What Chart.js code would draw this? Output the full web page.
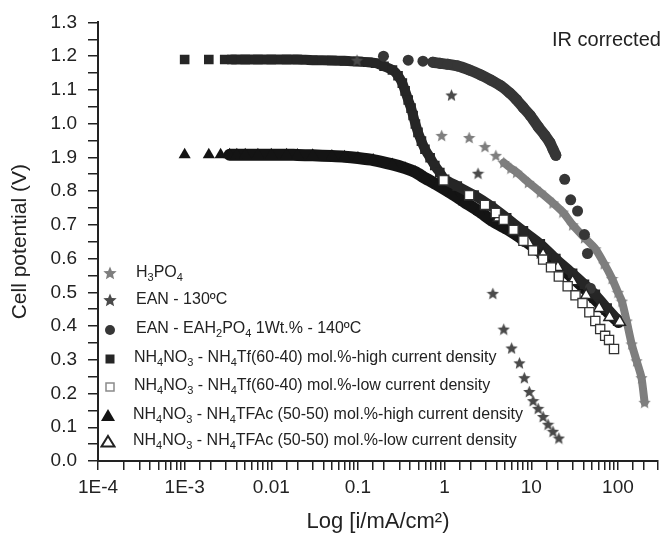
<!DOCTYPE html>
<html>
<head>
<meta charset="utf-8">
<script src="https://cdn.jsdelivr.net/npm/chart.js@4/dist/chart.umd.min.js"></script>
<style>
  html, body { margin: 0; padding: 0; background: #fff; overflow: hidden; }
  #wrap { position: relative; width: 667px; height: 535px; overflow: hidden; font-family: "Liberation Sans", Arial, sans-serif; color: #222; }
  #c { position: absolute; left: 0; top: 0; }
  .note { position: absolute; left: 552px; top: 28px; font-size: 20px; white-space: nowrap; }
  .leg { position: absolute; font-size: 16px; white-space: nowrap; line-height: 18px; }
  .leg sub { font-size: 11px; vertical-align: -4px; line-height: 0; }
  .sym { position: absolute; }
</style>
</head>
<body>
<div id="wrap">
  <canvas id="c" width="672" height="535"></canvas>
  <div class="note">IR corrected</div>
  <div id="legend"></div>
</div>
<script>
// ---------------- data (x: current density mA/cm2, y: cell potential V) ----------------
const xTickLabels = ["1E-4", "1E-3", "0.01", "0.1", "1", "10", "100"];
const yTickLabels = ["0.0", "0.1", "0.2", "0.3", "0.4", "0.5", "0.6", "0.7", "0.8", "1.9", "1.0", "1.1", "1.2", "1.3"];

const seriesNames = [
  "H3PO4",
  "EAN - 130ºC",
  "EAN - EAH2PO4 1Wt.% - 140ºC",
  "NH4NO3 - NH4Tf(60-40) mol.%-high current density",
  "NH4NO3 - NH4Tf(60-40) mol.%-low current density",
  "NH4NO3 - NH4TFAc (50-50) mol.%-high current density",
  "NH4NO3 - NH4TFAc (50-50) mol.%-low current density"
];

const h3po4X = [0.925, 1.92, 2.92, 3.9, 4.81, 5.8, 6.76, 9.25, 12.7, 17.8, 23.1, 30, 41.1, 54.8, 69.4, 85.5, 100, 111, 126, 144, 164, 187, 203];
const h3po4Y = [0.965, 0.959, 0.932, 0.906, 0.885, 0.868, 0.856, 0.826, 0.797, 0.765, 0.738, 0.70, 0.662, 0.629, 0.585, 0.541, 0.50, 0.474, 0.415, 0.347, 0.297, 0.247, 0.174];

const ean130X = [0.0975, 1.2, 2.43, 3.6, 4.81, 5.93, 7.31, 8.32, 9.48, 10.5, 12, 13.7, 15.6, 17.8, 20.8];
const ean130Y = [1.188, 1.085, 0.853, 0.497, 0.391, 0.335, 0.291, 0.247, 0.206, 0.179, 0.156, 0.132, 0.109, 0.088, 0.068];

const eanPhosX = [0.197, 0.38, 0.562, 0.73, 0.877, 1.08, 1.41, 1.92, 2.63, 3.42, 4.45, 5.62, 6.76, 8.11, 9.75, 12, 14.4, 16.4, 17.8, 19.2, 24.3, 28.5, 34.2, 41.1, 44.5, 48.1];
const eanPhosY = [1.20, 1.188, 1.185, 1.182, 1.179, 1.176, 1.171, 1.159, 1.144, 1.129, 1.112, 1.091, 1.071, 1.047, 1.024, 0.991, 0.965, 0.944, 0.924, 0.906, 0.835, 0.774, 0.741, 0.671, 0.615, 0.512];

const tfHighX = [0.001, 0.0019, 0.0029, 0.0035, 0.005, 0.007, 0.01, 0.015, 0.02, 0.03, 0.05, 0.07, 0.1, 0.13, 0.16, 0.2, 0.25, 0.29, 0.325, 0.35, 0.38, 0.41, 0.433, 0.46, 0.493, 0.54, 0.593, 0.68, 0.77, 0.88, 1.0, 1.4, 2.19, 3.42, 5.2, 8.11, 12.7, 19.2, 30, 41.1, 54.8, 75, 102];
const tfHighY = [1.19, 1.19, 1.19, 1.19, 1.19, 1.19, 1.19, 1.19, 1.19, 1.188, 1.187, 1.186, 1.184, 1.182, 1.179, 1.17, 1.159, 1.142, 1.12, 1.097, 1.07, 1.046, 1.024, 0.999, 0.974, 0.948, 0.924, 0.899, 0.876, 0.855, 0.835, 0.815, 0.788, 0.756, 0.721, 0.682, 0.644, 0.60, 0.556, 0.524, 0.494, 0.453, 0.415];

const tfLowX = [0.975, 1.92, 2.92, 3.9, 4.81, 6.24, 8.11, 10.5, 13.7, 16.9, 20.8, 26.3, 32.4, 39, 46.8, 54.8, 62.4, 71.2, 79, 90.1];
const tfLowY = [0.832, 0.788, 0.759, 0.735, 0.715, 0.685, 0.653, 0.624, 0.597, 0.574, 0.547, 0.518, 0.491, 0.468, 0.441, 0.415, 0.391, 0.371, 0.359, 0.332];

const tfacHighX = [0.001, 0.0019, 0.0026, 0.0033, 0.004, 0.005, 0.007, 0.01, 0.015, 0.02, 0.03, 0.05, 0.07, 0.1, 0.15, 0.25, 0.35, 0.46, 0.6, 0.83, 1.2, 1.69, 2.5, 3.7, 5.48, 8.11, 12.7, 19.2, 30, 41.1, 54.8, 75, 102];
const tfacHighY = [0.908, 0.908, 0.908, 0.908, 0.908, 0.908, 0.908, 0.908, 0.908, 0.907, 0.906, 0.904, 0.902, 0.898, 0.892, 0.879, 0.868, 0.856, 0.838, 0.818, 0.793, 0.768, 0.74, 0.709, 0.685, 0.656, 0.62, 0.585, 0.544, 0.512, 0.479, 0.444, 0.412];

const tfacLowX = [4.22, 6.24, 9.25, 13.7, 20.3, 30, 43, 60.8, 80, 105];
const tfacLowY = [0.721, 0.682, 0.647, 0.612, 0.574, 0.532, 0.491, 0.453, 0.426, 0.412];

// ---------------- marker helpers ----------------
function starCanvas(size, color) {
  const c = document.createElement('canvas');
  c.width = size; c.height = size;
  const g = c.getContext('2d');
  g.fillStyle = color;
  g.beginPath();
  const cx = size / 2, cy = size / 2 + size * 0.05, R = size / 2, r = R * 0.45;
  for (let i = 0; i < 10; i++) {
    const a = -Math.PI / 2 + i * Math.PI / 5;
    const rr = (i % 2) ? r : R;
    g.lineTo(cx + rr * Math.cos(a), cy + rr * Math.sin(a));
  }
  g.closePath();
  g.fill();
  return c;
}
const pts = (xs, ys) => xs.map((x, i) => ({ x: x, y: ys[i] }));
const bandSeg = (color, from, to) => ({
  borderColor: ctx => (ctx.p0DataIndex >= from && ctx.p1DataIndex <= to) ? color : 'rgba(0,0,0,0)'
});

const cH3 = '#7e7e7e', cEAN = '#4a4a4a', cPhos = '#363636', cTf = '#262626', cTfac = '#141414';

const datasets = [
  { label: seriesNames[0], data: pts(h3po4X, h3po4Y), pointStyle: starCanvas(13, cH3), pointRadius: 6,
    showLine: true, borderWidth: 8, borderColor: cH3, segment: bandSeg(cH3, 4, 99), tension: 0.2, order: 5 },
  { label: seriesNames[1], data: pts(ean130X, ean130Y), pointStyle: starCanvas(13, cEAN), pointRadius: 6,
    showLine: false, order: 4 },
  { label: seriesNames[2], data: pts(eanPhosX, eanPhosY), pointStyle: 'circle', pointRadius: 5.5,
    backgroundColor: cPhos, borderColor: cPhos, pointBorderWidth: 0,
    showLine: true, borderWidth: 11, segment: bandSeg(cPhos, 3, 19), tension: 0.2, order: 3 },
  { label: seriesNames[3], data: pts(tfHighX, tfHighY), pointStyle: 'rect', pointRadius: 6.8,
    backgroundColor: cTf, borderColor: cTf, pointBorderWidth: 0,
    showLine: true, borderWidth: 10, segment: bandSeg(cTf, 3, 99), tension: 0.2, order: 6 },
  { label: seriesNames[4], data: pts(tfLowX, tfLowY), pointStyle: 'rect', pointRadius: 6.5,
    backgroundColor: '#ffffff', borderColor: '#333', pointBorderWidth: 1.3,
    showLine: false, order: 1 },
  { label: seriesNames[5], data: pts(tfacHighX, tfacHighY), pointStyle: 'triangle', pointRadius: 7,
    backgroundColor: cTfac, borderColor: cTfac, pointBorderWidth: 0,
    showLine: true, borderWidth: 12, segment: bandSeg(cTfac, 3, 99), tension: 0.2, order: 7 },
  { label: seriesNames[6], data: pts(tfacLowX, tfacLowY), pointStyle: 'triangle', pointRadius: 6.5,
    backgroundColor: '#ffffff', borderColor: '#222', pointBorderWidth: 1.5,
    showLine: false, order: 2 }
];

Chart.defaults.font.family = '"Liberation Sans", Arial, sans-serif';
Chart.defaults.color = '#222';

new Chart(document.getElementById('c'), {
  type: 'scatter',
  data: { datasets: datasets },
  options: {
    responsive: false,
    animation: false,
    events: [],
    layout: { padding: { top: 19, right: 0, bottom: 0, left: 0 } },
    plugins: { legend: { display: false }, tooltip: { enabled: false } },
    elements: { line: { borderCapStyle: 'round', borderJoinStyle: 'round', fill: false } },
    scales: {
      x: {
        type: 'logarithmic',
        min: 1e-4, max: 290,
        afterFit: s => { s.height = 74; s.paddingRight = 0; s.paddingLeft = 0; },
        border: { display: true, color: '#222', width: 2 },
        grid: { drawOnChartArea: false, drawTicks: true, tickLength: 9, color: '#222', lineWidth: 1.5 },
        ticks: {
          autoSkip: false, maxRotation: 0, padding: 6, color: '#222',
          font: { size: 19 },
          callback: v => {
            const e = Math.log10(v);
            const r = Math.round(e);
            if (Math.abs(e - r) < 1e-6 && r >= -4 && r <= 2) return xTickLabels[r + 4];
            return '';
          }
        },
        title: { display: true, text: 'Log [i/mA/cm²)', font: { size: 22 }, color: '#222', padding: { top: 0, bottom: 0 } }
      },
      y: {
        min: 0, max: 1.3,
        afterFit: s => { s.width = 98; },
        border: { display: true, color: '#222', width: 2 },
        grid: { drawOnChartArea: false, drawTicks: true, tickLength: 10, color: '#222', lineWidth: 1.5 },
        ticks: {
          stepSize: 0.05, autoSkip: false, padding: 11, color: '#222',
          font: { size: 19 },
          callback: v => {
            const i = Math.round(v * 20);
            return (i % 2 === 0) ? yTickLabels[i / 2] : '';
          }
        },
        title: { display: true, text: 'Cell potential (V)', font: { size: 21 }, color: '#222', padding: { top: 8, bottom: 0 } }
      }
    }
  }
});

// ---------------- legend (HTML, inside plot area) ----------------
function starPts(cx, cy, R) {
  const r = R * 0.45, out = [];
  for (let i = 0; i < 10; i++) {
    const a = -Math.PI / 2 + i * Math.PI / 5;
    const rr = (i % 2) ? r : R;
    out.push((cx + rr * Math.cos(a)).toFixed(2) + ',' + (cy + rr * Math.sin(a)).toFixed(2));
  }
  return out.join(' ');
}
const legendRows = [
  { y: 273, tx: 136, sym: `<svg width="14" height="14"><polygon fill="${cH3}" points="${starPts(7,7.5,7)}"/></svg>`, sx: 103,
    html: 'H<sub>3</sub>PO<sub>4</sub>' },
  { y: 300, tx: 136, sym: `<svg width="14" height="14"><polygon fill="${cEAN}" points="${starPts(7,7.5,7)}"/></svg>`, sx: 103,
    html: 'EAN - 130ºC' },
  { y: 329, tx: 136, sym: `<svg width="12" height="12"><circle cx="6" cy="6" r="5" fill="${cPhos}"/></svg>`, sx: 104,
    html: 'EAN - EAH<sub>2</sub>PO<sub>4</sub> 1Wt.% - 140ºC' },
  { y: 358, tx: 134, sym: `<svg width="12" height="12"><rect x="1.5" y="1.5" width="9" height="9" fill="${cTf}"/></svg>`, sx: 104,
    html: 'NH<sub>4</sub>NO<sub>3</sub> - NH<sub>4</sub>Tf(60-40) mol.%-high current density' },
  { y: 386, tx: 134, sym: `<svg width="12" height="12"><rect x="2" y="2" width="8" height="8" fill="#fff" stroke="#8a8a8a" stroke-width="1.5"/></svg>`, sx: 104,
    html: 'NH<sub>4</sub>NO<sub>3</sub> - NH<sub>4</sub>Tf(60-40) mol.%-low current density' },
  { y: 415, tx: 133, sym: `<svg width="16" height="14"><polygon points="8,1 15,13 1,13" fill="${cTfac}"/></svg>`, sx: 100,
    html: 'NH<sub>4</sub>NO<sub>3</sub> - NH<sub>4</sub>TFAc (50-50) mol.%-high current density' },
  { y: 441, tx: 133, sym: `<svg width="16" height="14"><polygon points="8,2 14.5,12.5 1.5,12.5" fill="#fff" stroke="#222" stroke-width="2"/></svg>`, sx: 100,
    html: 'NH<sub>4</sub>NO<sub>3</sub> - NH<sub>4</sub>TFAc (50-50) mol.%-low current density' }
];
const lg = document.getElementById('legend');
legendRows.forEach(row => {
  const s = document.createElement('div');
  s.className = 'sym';
  s.style.left = row.sx + 'px';
  s.style.top = (row.y - 7) + 'px';
  s.innerHTML = row.sym;
  lg.appendChild(s);
  const t = document.createElement('div');
  t.className = 'leg';
  t.style.left = row.tx + 'px';
  t.style.top = (row.y - 10) + 'px';
  t.innerHTML = row.html;
  lg.appendChild(t);
});
</script>
</body>
</html>
